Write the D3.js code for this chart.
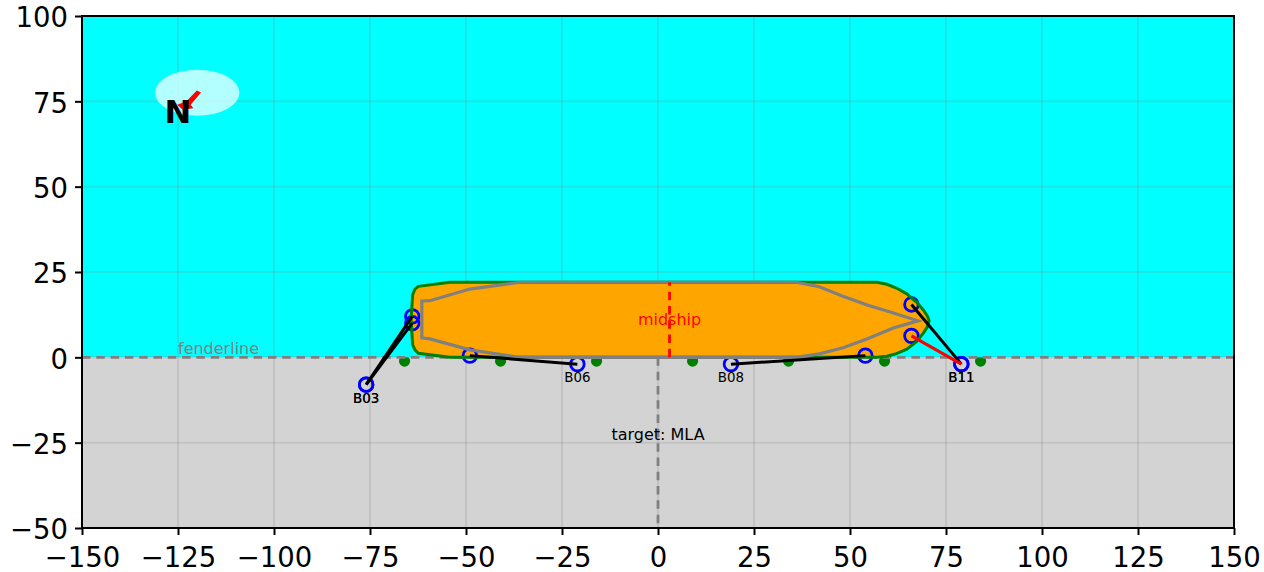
<!DOCTYPE html>
<html>
<head>
<meta charset="utf-8">
<script src="https://cdn.jsdelivr.net/npm/d3@7"></script>
<style>
  html, body { margin: 0; background: #fff; }
  text { font-family: "DejaVu Sans", sans-serif; }
</style>
</head>
<body>
<div id="chart"></div>
<script>
// --- data ---
const xTicks = [-150, -125, -100, -75, -50, -25, 0, 25, 50, 75, 100, 125, 150];
const yTicks = [-50, -25, 0, 25, 50, 75, 100];

const hullOutline = [
  [-54.2, 0], [-62.4, 1.2], [-63.3, 2.2], [-63.9, 3.7], [-64.3, 11], [-63.9, 18.3], [-63.3, 20], [-62.4, 20.8], [-54.2, 22],
  [57, 22], [59.6, 21.4], [62.1, 20.3], [64.8, 18.6], [67.3, 16.2], [69.1, 13.9], [70.2, 12], [70.6, 10.8],
  [70.2, 9], [69.1, 7.1], [67.3, 4.6], [64.8, 2.4], [62.1, 1.1], [59.6, 0.3], [57, 0],
];
const hullInner = [
  [-61.5, 16.5], [-59.4, 16.6], [-49, 20], [-36, 22], [36, 22], [42, 20.7], [48, 18], [54.3, 15.4], [61.3, 13],
  [67.7, 10.7], [61.3, 8.6], [54.4, 5.4], [48.2, 2.8], [42, 1], [36, 0], [-36, 0], [-49, 2.2], [-59.4, 5.4], [-61.5, 5.7],
];
const fenders = [-66, -41, -16, 9, 34, 59, 84];
const fenderY = -1.1;

// from [x, y] on the bollard to [x, y] on the ship
const mooringLines = [
  { name: 'B03', from: [-76, -8], to: [-64, 12], color: 'black' },
  { name: 'B03', from: [-76, -8], to: [-64, 10], color: 'black' },
  { name: 'B06', from: [-21, -2], to: [-49, 0.5], color: 'black' },
  { name: 'B08', from: [19, -2], to: [54, 0.5], color: 'black' },
  { name: 'B11', from: [79, -2], to: [66, 15.5], color: 'black' },
  { name: 'B11', from: [79, -2], to: [66, 6.3], color: 'red' },
];

const midshipX = 3;
const compassCenter = [-120, 77.5];
const compassSize = [22, 13.5];
// arrow points south-west, its head sits behind the N
const compassArrow = [
  [-120.1, 78.2], [-119, 77.6], [-121.7, 74], [-121, 73], [-123.8, 72.5], [-125.2, 74], [-122.8, 75],
];

// --- layout ---
const width = 1264, height = 572;
const plot = { left: 82, right: 1234, top: 16, bottom: 528 };
const dash = '8.5,5.8';

const x = d3.scaleLinear().domain([-150, 150]).range([plot.left, plot.right]);
const y = d3.scaleLinear().domain([-50, 100]).range([plot.bottom, plot.top]);

const svg = d3.select('#chart').append('svg')
  .attr('width', width)
  .attr('height', height)
  .style('display', 'block');

svg.append('defs').append('clipPath').attr('id', 'plot-clip').append('rect')
  .attr('x', plot.left).attr('y', plot.top)
  .attr('width', plot.right - plot.left).attr('height', plot.bottom - plot.top);

const g = svg.append('g').attr('clip-path', 'url(#plot-clip)');

// ground, fenders, then water on top of the fenders
g.append('rect')
  .attr('x', x(-150)).attr('y', y(0))
  .attr('width', x(150) - x(-150)).attr('height', y(-50) - y(0))
  .attr('fill', '#d3d3d3');
g.selectAll('.fender').data(fenders).join('circle')
  .attr('cx', d => x(d)).attr('cy', y(fenderY))
  .attr('r', 5.6).attr('fill', 'green');
g.append('rect')
  .attr('x', x(-150)).attr('y', y(100))
  .attr('width', x(150) - x(-150)).attr('height', y(0) - y(100))
  .attr('fill', '#00ffff');

// grid
g.selectAll('.vgrid').data(xTicks).join('line')
  .attr('x1', d => x(d)).attr('x2', d => x(d))
  .attr('y1', plot.top).attr('y2', plot.bottom)
  .attr('stroke', '#808080').attr('stroke-opacity', 0.2).attr('stroke-width', 2);
g.selectAll('.hgrid').data(yTicks).join('line')
  .attr('y1', d => y(d)).attr('y2', d => y(d))
  .attr('x1', plot.left).attr('x2', plot.right)
  .attr('stroke', '#808080').attr('stroke-opacity', 0.2).attr('stroke-width', 2);

// north marker
g.append('ellipse')
  .attr('cx', x(compassCenter[0])).attr('cy', y(compassCenter[1]))
  .attr('rx', (x(compassSize[0]) - x(0)) / 2).attr('ry', (y(0) - y(compassSize[1])) / 2)
  .attr('fill', 'white').attr('fill-opacity', 0.7);
g.append('polygon')
  .attr('points', compassArrow.map(d => [x(d[0]), y(d[1])].join(',')).join(' '))
  .attr('fill', 'red');
g.append('text')
  .attr('x', x(-125)).attr('y', y(68.7))
  .attr('text-anchor', 'middle')
  .attr('font-size', 32).attr('font-weight', 'bold').attr('fill', 'black')
  .text('N');

// fender line + text
g.append('line')
  .attr('x1', plot.left).attr('x2', plot.right)
  .attr('y1', y(0)).attr('y2', y(0))
  .attr('stroke', 'gray').attr('stroke-width', 2.8).attr('stroke-dasharray', dash);
g.append('text')
  .attr('x', x(-125)).attr('y', y(1))
  .attr('font-size', 16).attr('fill', 'gray')
  .text('fenderline');

// target line
g.append('line')
  .attr('x1', x(0)).attr('x2', x(0))
  .attr('y1', y(0)).attr('y2', y(-50))
  .attr('stroke', 'gray').attr('stroke-width', 2.8).attr('stroke-dasharray', dash);
g.append('text')
  .attr('x', x(0)).attr('y', y(-24.2))
  .attr('text-anchor', 'middle')
  .attr('font-size', 16).attr('fill', 'black')
  .text('target: MLA');

// hull
const linePath = d3.line().x(d => x(d[0])).y(d => y(d[1]));
g.append('path').attr('d', linePath(hullOutline) + 'Z').attr('fill', 'orange');

// end markers go under the hull stroke and the lines
const markerPts = mooringLines.flatMap(d => [d.from, d.to]);
g.selectAll('.end').data(markerPts).join('circle')
  .attr('cx', d => x(d[0])).attr('cy', d => y(d[1]))
  .attr('r', 6.8).attr('fill', 'none').attr('stroke', 'blue').attr('stroke-width', 2.8);

g.append('path').attr('d', linePath(hullOutline) + 'Z')
  .attr('fill', 'none').attr('stroke', 'green').attr('stroke-width', 3);
g.append('path').attr('d', linePath(hullInner) + 'Z')
  .attr('fill', 'none').attr('stroke', 'gray').attr('stroke-width', 3.2);

// midship
g.append('line')
  .attr('x1', x(midshipX)).attr('x2', x(midshipX))
  .attr('y1', y(0)).attr('y2', y(22))
  .attr('stroke', 'red').attr('stroke-width', 2.8).attr('stroke-dasharray', dash);
g.append('text')
  .attr('x', x(midshipX)).attr('y', y(11))
  .attr('text-anchor', 'middle').attr('dy', '0.35em')
  .attr('font-size', 16).attr('fill', 'red')
  .text('midship');

// mooring lines
g.selectAll('.moor').data(mooringLines).join('line')
  .attr('x1', d => x(d.from[0])).attr('y1', d => y(d.from[1]))
  .attr('x2', d => x(d.to[0])).attr('y2', d => y(d.to[1]))
  .attr('stroke', d => d.color).attr('stroke-width', 3);

// bollard labels, one per line so doubled names print darker
g.selectAll('.blabel').data(mooringLines).join('text')
  .attr('x', d => x(d.from[0])).attr('y', d => y(d.from[1]) + 18)
  .attr('text-anchor', 'middle')
  .attr('font-size', 13.4).attr('fill', 'black')
  .text(d => d.name);

// --- axes ---
const fmt = d => String(d).replace('-', '\u2212');
const xAxis = d3.axisBottom(x).tickValues(xTicks).tickFormat(fmt).tickSize(7).tickPadding(12);
const yAxis = d3.axisLeft(y).tickValues(yTicks).tickFormat(fmt).tickSize(7).tickPadding(7);

const xg = svg.append('g').attr('transform', `translate(0,${plot.bottom})`).call(xAxis);
const yg = svg.append('g').attr('transform', `translate(${plot.left},0)`).call(yAxis);
[xg, yg].forEach(a => {
  a.selectAll('.domain').remove();
  a.selectAll('line').attr('stroke', 'black').attr('stroke-width', 2);
  a.selectAll('text').attr('font-size', 27.5).attr('font-family', '"DejaVu Sans", sans-serif').attr('fill', 'black');
});
yg.selectAll('text').attr('dy', '0.39em');

svg.append('rect')
  .attr('x', plot.left).attr('y', plot.top)
  .attr('width', plot.right - plot.left).attr('height', plot.bottom - plot.top)
  .attr('fill', 'none').attr('stroke', 'black').attr('stroke-width', 2);
</script>
</body>
</html>
